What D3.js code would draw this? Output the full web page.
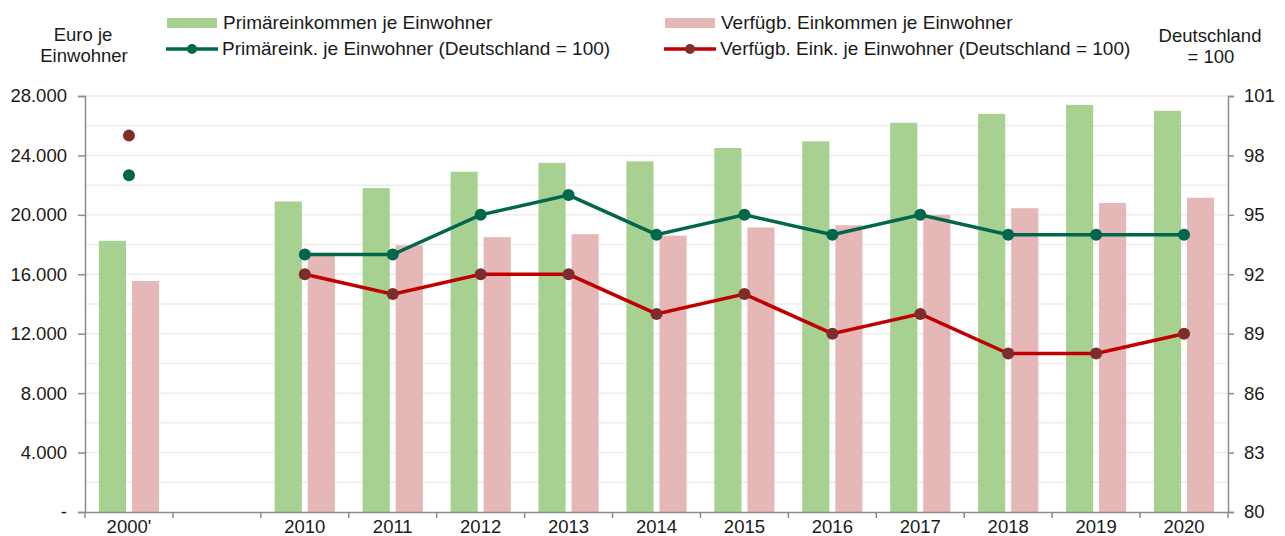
<!DOCTYPE html>
<html>
<head>
<meta charset="utf-8">
<script src="https://cdn.jsdelivr.net/npm/d3@7"></script>
<style>
  body { margin: 0; background: #fff; }
  svg text { font-family: "Liberation Sans", Arial, sans-serif; fill: #1a1a1a; }
</style>
</head>
<body>
<div id="chart"></div>
<script>
// categories, "" is the empty slot between 2000' and 2010
const years = ["2000'", "", "2010", "2011", "2012", "2013", "2014", "2015", "2016", "2017", "2018", "2019", "2020"];
const primaer = [18250, null, 20900, 21800, 22900, 23500, 23600, 24500, 24950, 26200, 26800, 27400, 27000];
const verfuegb = [15550, null, 17450, 17950, 18500, 18700, 18600, 19150, 19300, 20000, 20450, 20800, 21150];
const primaerIdx = [97, null, 93, 93, 95, 96, 94, 95, 94, 95, 94, 94, 94];
const verfuegbIdx = [99, null, 92, 91, 92, 92, 90, 91, 89, 90, 88, 88, 89];
const leftTicks = [0, 4000, 8000, 12000, 16000, 20000, 24000, 28000];
const rightTicks = [80, 83, 86, 89, 92, 95, 98, 101];

const W = 1285, H = 536;
const margin = { top: 96, right: 57, bottom: 24, left: 85 };
const plotW = W - margin.left - margin.right,
      plotH = H - margin.top - margin.bottom;
const fontSize = 18.5;
const legendFont = 19;

const svg = d3.select("#chart").append("svg")
    .attr("width", W).attr("height", H);

const g = svg.append("g").attr("transform", `translate(${margin.left},${margin.top})`);

const x = d3.scaleBand().domain(years).range([0, plotW]).padding(0);
const xs = d3.scaleBand().domain(["p", "v"]).range([0, x.bandwidth()])
    .paddingInner(0.18).paddingOuter(0.42);
const y = d3.scaleLinear().domain([0, 28000]).range([plotH, 0]);
const y2 = d3.scaleLinear().domain([80, 101]).range([plotH, 0]);

// grid every 2000
g.selectAll(".grid")
  .data(d3.range(2000, 28001, 2000))
  .enter().append("line")
  .attr("x1", 0).attr("x2", plotW)
  .attr("y1", d => y(d)).attr("y2", d => y(d))
  .attr("stroke", "#ededed").attr("stroke-width", 1.5);

const rows = years.map((c, i) => ({ c, p: primaer[i], v: verfuegb[i], pi: primaerIdx[i], vi: verfuegbIdx[i] }));

// bars
g.selectAll(".barP")
  .data(rows.filter(d => d.p != null))
  .enter().append("rect")
  .attr("x", d => x(d.c) + xs("p"))
  .attr("y", d => y(d.p))
  .attr("width", xs.bandwidth())
  .attr("height", d => plotH - y(d.p))
  .attr("fill", "#a7d191");

g.selectAll(".barV")
  .data(rows.filter(d => d.v != null))
  .enter().append("rect")
  .attr("x", d => x(d.c) + xs("v"))
  .attr("y", d => y(d.v))
  .attr("width", xs.bandwidth())
  .attr("height", d => plotH - y(d.v))
  .attr("fill", "#e6b7b7");

// axes
const fmt = d => d === 0 ? "-" : d3.format(",")(d).replace(/,/g, ".");

const yAxis = g.append("g")
  .call(d3.axisLeft(y).tickValues(leftTicks).tickFormat(fmt).tickSizeOuter(0).tickSize(7).tickPadding(11));
const y2Axis = g.append("g").attr("transform", `translate(${plotW},0)`)
  .call(d3.axisRight(y2).tickValues(rightTicks).tickSizeOuter(0).tickSize(6).tickPadding(10));
const xAxis = g.append("g").attr("transform", `translate(0,${plotH})`)
  .call(d3.axisBottom(x).tickSize(0).tickPadding(8));

// x ticks at slot edges
xAxis.selectAll(".edge")
  .data(d3.range(years.length + 1))
  .enter().append("line")
  .attr("x1", i => i * x.step()).attr("x2", i => i * x.step())
  .attr("y1", 0).attr("y2", 6);

[yAxis, y2Axis, xAxis].forEach(a => {
  a.selectAll("path.domain").attr("stroke", "#8c8c8c").attr("stroke-width", 1.5);
  a.selectAll("line").attr("stroke", "#8c8c8c").attr("stroke-width", 1.5);
  a.selectAll("text").attr("font-size", fontSize).attr("fill", "#1a1a1a")
    .attr("font-family", '"Liberation Sans", Arial, sans-serif');
});

// lines
const lineGen = key => d3.line()
  .defined(d => d[key] != null)
  .x(d => x(d.c) + x.bandwidth() / 2)
  .y(d => y2(d[key]));

const series = [
  { key: "pi", line: "#00664c", dot: "#00664c" },
  { key: "vi", line: "#c00000", dot: "#7e2d2d" }
];

series.forEach(s => {
  g.append("path")
    .datum(rows)
    .attr("fill", "none")
    .attr("stroke", s.line)
    .attr("stroke-width", 3.5)
    .attr("d", lineGen(s.key));
  g.selectAll(".dot-" + s.key)
    .data(rows.filter(d => d[s.key] != null))
    .enter().append("circle")
    .attr("cx", d => x(d.c) + x.bandwidth() / 2)
    .attr("cy", d => y2(d[s.key]))
    .attr("r", 6)
    .attr("fill", s.dot);
});

// axis titles
svg.append("text").attr("x", 83).attr("y", 41).attr("text-anchor", "middle")
  .attr("font-size", fontSize).text("Euro je");
svg.append("text").attr("x", 84).attr("y", 62).attr("text-anchor", "middle")
  .attr("font-size", fontSize).text("Einwohner");
svg.append("text").attr("x", 1210).attr("y", 42).attr("text-anchor", "middle")
  .attr("font-size", fontSize).text("Deutschland");
svg.append("text").attr("x", 1211).attr("y", 63).attr("text-anchor", "middle")
  .attr("font-size", fontSize).text("= 100");

// legend
const legend = [
  { x: 167, y: 23, type: "bar", color: "#a7d191", label: "Primäreinkommen je Einwohner" },
  { x: 665, y: 23, type: "bar", color: "#e6b7b7", label: "Verfügb. Einkommen je Einwohner" },
  { x: 166, y: 49, type: "line", color: "#00664c", dot: "#00664c", label: "Primäreink. je Einwohner (Deutschland = 100)" },
  { x: 664, y: 49, type: "line", color: "#c00000", dot: "#7e2d2d", label: "Verfügb. Eink. je Einwohner (Deutschland = 100)" }
];

legend.forEach(l => {
  const lg = svg.append("g").attr("transform", `translate(${l.x},${l.y})`);
  if (l.type === "bar") {
    lg.append("rect").attr("x", 0).attr("y", -5).attr("width", 50).attr("height", 10).attr("fill", l.color);
  } else {
    lg.append("line").attr("x1", 0).attr("x2", 52).attr("y1", 0).attr("y2", 0)
      .attr("stroke", l.color).attr("stroke-width", 3.5);
    lg.append("circle").attr("cx", 26).attr("cy", 0).attr("r", 5).attr("fill", l.dot);
  }
  lg.append("text").attr("x", 56).attr("y", 6).attr("font-size", legendFont).text(l.label);
});
</script>
</body>
</html>
